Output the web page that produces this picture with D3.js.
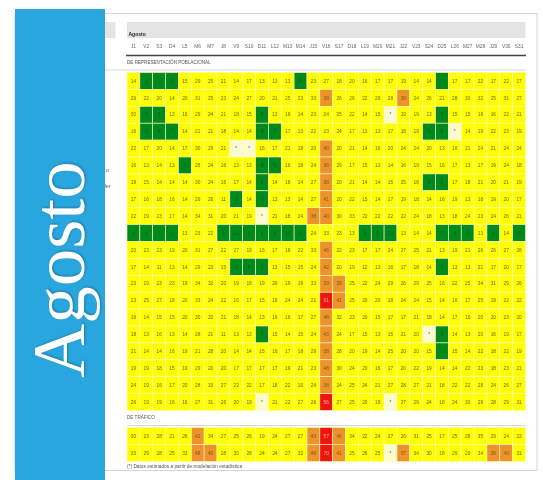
<!DOCTYPE html>
<html lang="es">
    <head>
	<title>Agosto</title>
	<meta charset="utf-8">
	<style>
	 html, body {
	     margin: 0;
	     background: #fff;
	 }
	 svg {
	     display: block;
	 }
	 text {
	     font-family: "Liberation Sans", sans-serif;
	 }
	 .sheet {
	     filter: blur(.75px);
	 }
	 .panel {
	     filter: blur(.4px);
	 }
	 .panelText {
	     font-family: "Liberation Serif", serif;
	     filter: drop-shadow(1px 1px 1px rgba(0,0,0,.25));
	 }
	</style>
	<script src="https://d3js.org/d3.v7.min.js"></script>
    </head>
    <body>
	<div id="chart"></div>
	<script>

	 //Data: null is a day marked with * in the table
	 const days = ['J1','V2','S3','D4','L5','M6','M7','J8','V9','S10','D11','L12','M13','M14','J15','V16',
		       'S17','D18','L19','M20','M21','J22','V23','S24','D25','L26','M27','M28','J29','V30','S31'];

	 const poblacional = [
	     [14,9,7,9,15,29,25,21,14,17,13,13,13,9,23,27,18,20,16,17,17,19,14,14,9,17,17,22,17,22,17],
	     [29,22,20,14,20,31,25,23,24,27,20,21,25,23,33,38,26,26,22,26,28,38,24,26,21,28,30,32,25,31,27],
	     [30,8,9,13,16,29,24,21,18,15,9,13,19,14,23,24,25,22,14,15,null,19,19,13,9,15,15,18,16,22,21],
	     [16,9,8,7,14,21,21,18,14,14,8,7,17,13,22,23,24,17,13,13,17,18,19,9,8,null,14,19,22,23,19],
	     [22,17,20,14,17,30,29,21,null,null,16,17,21,18,20,40,20,21,14,16,20,24,24,20,13,16,21,24,21,24,24],
	     [16,13,14,13,9,26,24,16,13,13,8,9,16,18,24,36,29,17,15,13,14,16,19,15,16,17,13,17,19,24,18],
	     [19,15,14,14,14,30,24,16,17,14,8,14,18,14,27,38,20,21,14,14,15,25,18,9,8,17,18,21,20,21,19],
	     [17,16,18,16,14,29,26,11,9,14,9,13,13,14,27,41,20,22,15,14,17,19,18,14,16,19,13,18,19,20,17],
	     [22,19,23,17,14,34,31,20,21,19,null,21,18,24,38,40,30,33,22,22,22,22,24,18,13,18,24,23,24,26,21],
	     [9,8,7,6,13,23,22,9,10,9,8,9,10,9,24,33,23,13,9,9,10,13,14,14,9,8,9,13,9,14,10],
	     [20,23,23,19,20,31,27,22,27,19,16,17,18,22,33,46,22,23,17,17,24,27,25,21,13,19,21,26,26,27,28],
	     [17,14,11,13,14,29,23,15,9,8,9,13,15,15,24,42,20,19,12,13,16,17,18,14,9,13,13,21,17,20,17],
	     [23,19,23,23,19,34,32,20,19,18,19,20,19,19,33,39,39,25,22,24,29,26,29,25,16,22,25,34,31,29,26],
	     [23,25,27,18,20,33,24,22,16,17,15,16,24,24,21,61,41,25,20,20,18,24,24,15,14,16,17,25,19,22,22],
	     [19,14,15,15,20,30,20,21,18,14,13,16,16,17,27,48,32,23,20,15,17,17,21,18,14,17,16,20,20,23,20],
	     [18,13,16,13,14,28,21,11,13,13,9,15,14,15,24,43,24,17,15,13,15,21,20,null,9,14,13,20,16,19,17],
	     [21,14,14,16,19,21,28,20,14,14,15,16,17,18,29,38,28,20,19,14,25,20,20,15,9,15,14,22,18,22,19],
	     [19,19,18,15,19,29,20,20,17,17,17,17,19,21,23,48,30,24,20,16,17,20,22,19,14,14,22,23,18,23,21],
	     [24,19,16,17,20,28,33,27,22,22,17,18,22,19,24,38,24,25,24,21,27,28,27,21,18,22,22,28,24,26,27],
	     [26,19,19,16,16,27,31,26,20,19,null,21,22,27,26,56,27,25,20,19,null,27,29,24,18,24,30,29,28,29,31]
	 ];

	 const trafico = [
	     [30,23,28,21,26,42,34,27,25,26,19,24,27,27,40,57,46,34,22,24,27,26,31,25,17,25,28,35,29,24,23],
	     [33,29,28,25,33,48,40,28,30,28,24,24,27,32,46,70,41,25,26,25,null,37,34,30,18,29,29,34,38,40,31]
	 ];

	 const svg = d3.select('#chart').append('svg').attr('width', 543).attr('height', 480);
	 const sheet = svg.append('g').attr('class', 'sheet');

	 //Card behind everything
	 sheet.append('rect')
	      .attr('x', 15)
	      .attr('y', 13.5)
	      .attr('width', 522)
	      .attr('height', 457)
	      .attr('fill', '#fff')
	      .attr('stroke', '#d4d6d8');

	 //Header
	 sheet.append('rect').attr('x', 105).attr('y', 22).attr('width', 10.5).attr('height', 16).attr('fill', '#e4e4e4');
	 sheet.append('rect').attr('x', 127).attr('y', 22).attr('width', 398.5).attr('height', 16).attr('fill', '#e4e4e4');
	 sheet.append('text').attr('x', 128.5).attr('y', 35.5).attr('font-size', 5).attr('font-weight', 'bold').attr('fill', '#222').text('Agosto');
	 sheet.append('line').attr('x1', 126).attr('x2', 526).attr('y1', 55.5).attr('y2', 55.5).attr('stroke', '#444').attr('stroke-width', 1.6);
	 sheet.append('text').attr('x', 127).attr('y', 63.5).attr('font-size', 4.6).attr('fill', '#555').text('DE REPRESENTACIÓN POBLACIONAL');
	 sheet.append('line').attr('x1', 105).attr('x2', 526).attr('y1', 70).attr('y2', 70).attr('stroke', '#c8c8c8').attr('stroke-width', .7);
	 sheet.append('text').attr('x', 127).attr('y', 419).attr('font-size', 4.6).attr('fill', '#555').text('DE TRÁFICO');
	 sheet.append('line').attr('x1', 127).attr('x2', 526).attr('y1', 425.5).attr('y2', 425.5).attr('stroke', '#c8c8c8').attr('stroke-width', .7);
	 sheet.append('text').attr('x', 127).attr('y', 468).attr('font-size', 4.8).attr('fill', '#555').text('(*) Datos estimados a partir de modelación estadística');

	 //Ends of the row names that show past the blue panel
	 sheet.append('text').attr('x', 106).attr('y', 172).attr('font-size', 5).attr('fill', '#555').text('o');
	 sheet.append('text').attr('x', 105).attr('y', 188).attr('font-size', 5).attr('fill', '#555').text('ler');

	 //Scales
	 const x = d3.scaleBand().domain(days).range([127, 525.5]);
	 const y = d3.scaleBand().domain(d3.range(poblacional.length)).range([72.5, 410.5]);
	 const y2 = d3.scaleBand().domain(d3.range(trafico.length)).range([427.5, 461.5]);
	 const level = d3.scaleThreshold().domain([11, 36, 51]).range(['#008a1e', '#ffff00', '#f0922b', '#ee1410']);

	 //Day labels
	 sheet.append('g')
	      .attr('transform', 'translate(0,45.5)')
	      .call(d3.axisTop(x).tickSize(0).tickPadding(0))
	      .call(g => g.select('.domain').remove())
	      .call(g => g.selectAll('text').attr('font-size', 4.8).attr('fill', '#666').attr('dy', '.5em'));

	 function drawTable(values, yScale) {
	     const rows = sheet.append('g')
			       .selectAll('g')
			       .data(values)
			       .enter()
			       .append('g')
			       .attr('transform', (d, i) => 'translate(0,' + yScale(i) + ')');

	     const cells = rows.selectAll('g')
			       .data(d => d.map((v, i) => ({day: days[i], value: v})))
			       .enter()
			       .append('g')
			       .attr('transform', d => 'translate(' + x(d.day) + ',0)');

	     cells.append('rect')
		  .attr('width', x.bandwidth())
		  .attr('height', yScale.bandwidth())
		  .attr('fill', d => d.value === null ? '#fbfbd2' : level(d.value))
		  .attr('stroke', '#fdfdb0')
		  .attr('stroke-width', .6);

	     cells.append('text')
		  .attr('x', x.bandwidth() / 2)
		  .attr('y', yScale.bandwidth() / 2)
		  .attr('dy', '.35em')
		  .attr('text-anchor', 'middle')
		  .attr('font-size', 4.8)
		  .attr('fill', d => d.value !== null && d.value < 11 ? '#0c5a20' : d.value > 50 ? '#f8b0a0' : '#6a6420')
		  .text(d => d.value === null ? '*' : d.value);
	 }

	 drawTable(poblacional, y);
	 drawTable(trafico, y2);

	 //Blue panel on top of the table
	 svg.append('rect')
	    .attr('class', 'panel')
	    .attr('x', 15)
	    .attr('y', 9)
	    .attr('width', 90)
	    .attr('height', 472)
	    .attr('fill', '#29a6de');

	 svg.append('text')
	    .attr('class', 'panelText')
	    .attr('transform', 'translate(84,378)rotate(-90)')
	    .attr('font-size', 75)
	    .attr('fill', '#fff')
	    .text('Agosto');

	</script>
    </body>
</html>
